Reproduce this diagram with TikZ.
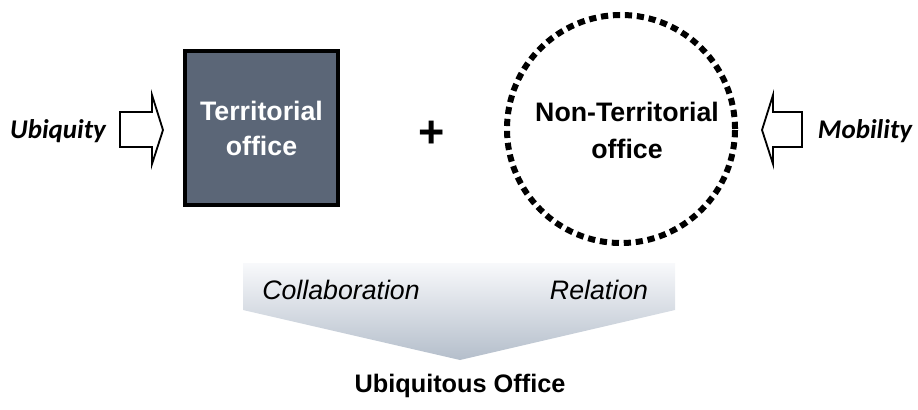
\documentclass[tikz,border=0pt]{standalone}
\usepackage{fontspec}
\setmainfont{Liberation Sans}
\newfontfamily\gillish{Carlito}
\usetikzlibrary{positioning,shapes.geometric}
\definecolor{slate}{RGB}{91,102,119}
\definecolor{fadetop}{RGB}{248,249,251}
\definecolor{fadebot}{RGB}{180,190,203}
\tikzset{
  officebox/.style={draw=black, line width=0.1cm, fill=slate, minimum size=3.825cm, inner sep=0pt,
    text=white, font=\fontsize{19}{24.9}\selectfont\bfseries, align=center},
  officering/.style={draw=black, circle, line width=0.15cm, dash pattern=on 0.18cm off 0.12cm,
    minimum size=5.7cm, inner sep=0pt},
  blockarrow/.style={draw=black, line width=1.3pt, fill=white, line join=miter},
  forcelabel/.style={font=\gillish\fontsize{19.2}{22}\selectfont\bfseries\itshape},
  flowlabel/.style={font=\fontsize{19}{22}\selectfont\itshape},
  funnel/.style={top color=fadetop, bottom color=fadebot, draw=none}
}

\begin{document}
\begin{tikzpicture}[x=0.025cm, y=-0.025cm]
  \useasboundingbox (0,0) rectangle (918,409);

  \node[officebox] (terr) at (261.5,128) {Territorial\\office};
  \node[officering] (nonterr) at (621,129) {};
  \node[font=\fontsize{19}{26.3}\selectfont\bfseries, align=center] (nontext) at (627,130) {Non-Territorial\\office};
  \node[font=\fontsize{32}{36}\selectfont\bfseries] (plus) at (431.5,134) {+};

  \node[forcelabel] (ubi) at (58,131) {Ubiquity};
  \node[forcelabel] (mob) at (865,131) {Mobility};
  \draw[blockarrow] (120,112) -- (152,112) -- (152,95) -- (163,130) -- (152,164) -- (152,147) -- (120,147) -- cycle;
  \draw[blockarrow] (802,112) -- (773,112) -- (773,95) -- (762,130) -- (773,164) -- (773,147) -- (802,147) -- cycle;

  \shade[funnel] (243,263) -- (675,263) -- (675,310) -- (460,360) -- (243,310) -- cycle;
  \node[flowlabel] (collab) at (341,290) {Collaboration};
  \node[flowlabel] (rel) at (599,290) {Relation};
  \node[font=\fontsize{18}{20}\selectfont\bfseries] (ubioffice) at (460,386) {Ubiquitous Office};
\end{tikzpicture}
\end{document}
